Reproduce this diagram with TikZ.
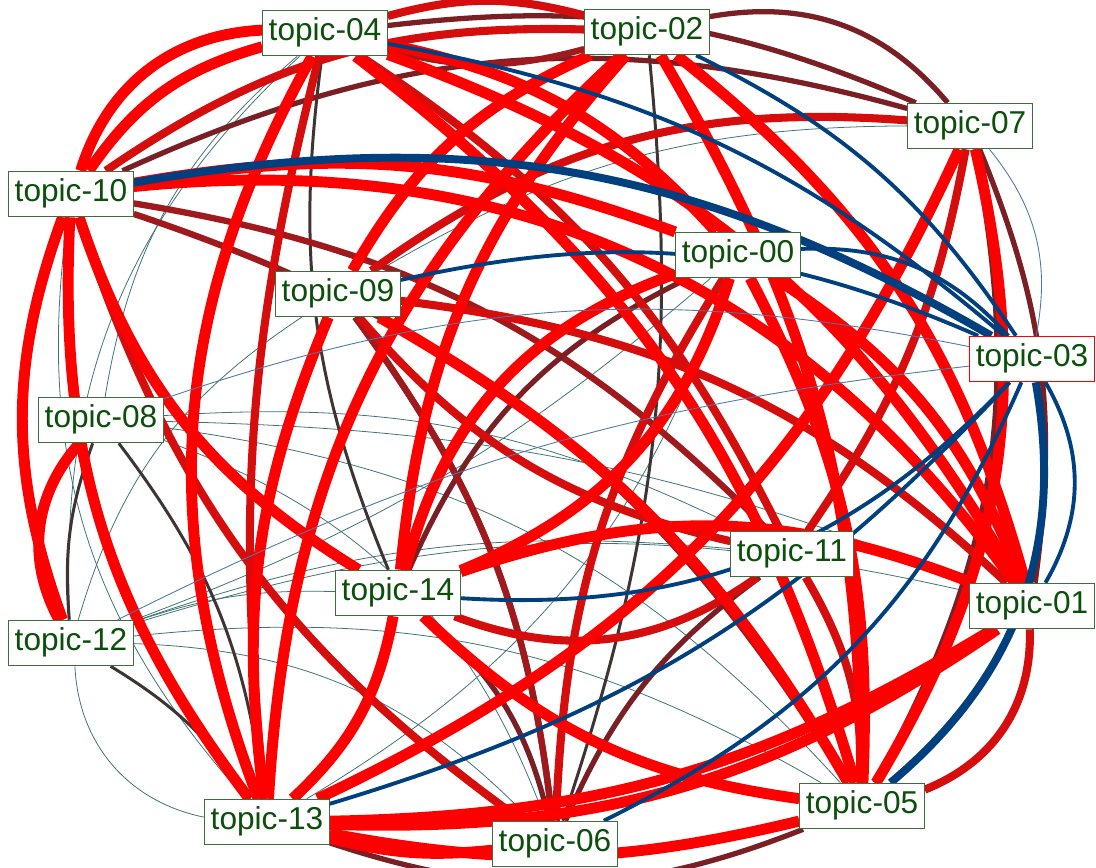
\documentclass[tikz,border=0pt]{standalone}
\usepackage{fontspec}
\setmainfont{Liberation Sans}
\usetikzlibrary{backgrounds}
\definecolor{topicgreen}{HTML}{0B4F0B}
\definecolor{boxgreen}{HTML}{3D6E3D}
\definecolor{hotred}{HTML}{FF0000}
\definecolor{midred}{HTML}{D60D0D}
\definecolor{wine}{HTML}{A0191C}
\definecolor{darkwine}{HTML}{7A2024}
\definecolor{ash}{HTML}{3E3434}
\definecolor{slate}{HTML}{3F7373}
\definecolor{navy}{HTML}{00407F}
\tikzset{
  topic/.style = {draw=boxgreen, fill=white, text=topicgreen, line width=0.6pt,
    inner xsep=3.4pt, inner ysep=4.5pt, text height=12.9pt, text depth=4pt,
    font=\fontsize{18}{20}\selectfont},
  topic_hub/.style = {topic, draw=red},
  e_r/.style = {hotred, line width=6.2pt},
  e_dr/.style = {midred, line width=4.6pt},
  e_w/.style = {wine, line width=3.6pt},
  e_dw/.style = {darkwine, line width=3pt},
  e_k/.style = {ash, line width=1.7pt},
  e_t/.style = {slate, line width=0.45pt},
  e_bb/.style = {navy, line width=4.5pt},
  e_b/.style = {navy, line width=2.2pt},
  e_bt/.style = {navy!70, line width=0.5pt},
}

\begin{document}
\begin{tikzpicture}[x=0.02cm, y=-0.02cm]
  \useasboundingbox (0,0) rectangle (1096,867);
  \node [topic] (t04) at (325,33) {topic-04};
  \node [topic] (t02) at (647,32) {topic-02};
  \node [topic] (t07) at (970,126) {topic-07};
  \node [topic] (t10) at (71,194) {topic-10};
  \node [topic] (t00) at (738,255) {topic-00};
  \node [topic] (t09) at (338,294) {topic-09};
  \node [topic_hub] (t03) at (1032,359) {topic-03};
  \node [topic] (t08) at (101,420) {topic-08};
  \node [topic] (t11) at (792,554) {topic-11};
  \node [topic] (t14) at (398,593) {topic-14};
  \node [topic] (t01) at (1032,606) {topic-01};
  \node [topic] (t12) at (71,643) {topic-12};
  \node [topic] (t13) at (267,822) {topic-13};
  \node [topic] (t05) at (862,806) {topic-05};
  \node [topic] (t06) at (555,844) {topic-06};

  \begin{pgfonlayer}{background}
  % weak links
  \draw [e_t] (t10) to[bend right=25] (t13);
  \draw [e_t] (t10) to[bend right=18] (t12);
  \draw [e_t] (t12) to[bend left=25] (t04);
  \draw [e_t] (t08) to[bend left=20] (t04);
  \draw [e_t] (t12) to[bend right=38] (t13);
  \foreach \dst/\b in {t14/10, t11/12, t01/15, t05/18, t06/22, t00/-10}
    \draw [e_t] (t12) to[bend left=\b] (\dst);
  \foreach \dst/\b in {t11/15, t05/20, t06/25, t01/10}
    \draw [e_t] (t08) to[bend left=\b] (\dst);
  \draw [e_t] (t09) to[bend right=20] (t12);
  \draw [e_t] (t07) to[bend right=15] (t09);
  \draw [e_t] (t13) to[bend right=20] (t00);

  \draw [e_k] (t04) to[bend right=15] (t14);
  \draw [e_k] (t02) to[bend left=12] (t06);
  \draw [e_k] (t08) to[bend right=12] (t12);
  \draw [e_k] (t08) to[bend left=15] (t13);
  \draw [e_k] (t12) to[bend left=12] (t13);

  \draw [e_dw] (t10) to[bend left=20] (t07);
  \draw [e_dw] (t02) to[bend left=30] (t07);
  \draw [e_dw] (t04) to[bend left=15] (t07);
  \draw [e_w] (t02) to[bend left=15] (t04);
  \draw [e_w] (t10) to[bend left=20] (t05);
  \draw [e_w] (t10) to[bend left=18] (t11);
  \draw [e_dw] (t14) to[bend left=20] (t00);
  \draw [e_dw] (t13) to[bend right=20] (t05);
  \draw [e_dw] (t07) to[bend left=15] (t01);
  \draw [e_dw] (t07) to[bend left=20] (t05);
  \draw [e_w] (t06) to[bend right=15] (t09);
  \draw [e_w] (t09) to[bend left=15] (t06);
  \draw [e_dw] (t14) to[bend left=18] (t06);
  \draw [e_dw] (t11) to[bend right=15] (t06);

  \draw [e_dr] (t04) to[bend right=10] (t13);
  \draw [e_dr] (t04) to[bend left=15] (t02);
  \draw [e_dr] (t10) to[bend right=18] (t06);
  \draw [e_dr] (t04) to[bend left=15] (t11);
  \draw [e_dr] (t02) to[bend right=18] (t10);
  \draw [e_dr] (t07) to[bend left=12] (t11);
  \draw [e_dr] (t07) to[bend right=20] (t09);
  \draw [e_dr] (t00) to[bend right=15] (t06);
  \draw [e_dr] (t09) to[bend left=18] (t01);
  \draw [e_dr] (t09) to[bend right=18] (t11);
  \draw [e_dr] (t14) to[bend right=28] (t11);
  \draw [e_dr] (t11) to[bend left=15] (t05);
  \draw [e_dr] (t01) to[bend left=35] (t05);
  \draw [e_dr] (t05) to[bend right=15] (t00);

  % strong links
  \draw [e_r] (t10) to[bend left=35] (t04);
  \draw [e_r] (t04) to[bend right=20] (t10);
  \draw [e_r] (t10) to[bend left=30] (t01);
  \draw [e_r] (t10) to[bend left=15] (t00);
  \draw [e_r] (t10) to[bend right=20] (t12);
  \draw [e_r] (t10) to[bend right=20] (t13);
  \draw [e_r] (t10) to[bend right=20] (t14);
  \draw [e_r] (t04) to[bend right=25] (t13);
  \draw [e_r] (t04) to[bend left=20] (t01);
  \draw [e_r] (t04) to[bend left=18] (t05);
  \draw [e_r] (t04) to[bend left=18] (t00);
  \draw [e_r] (t02) to[bend right=22] (t13);
  \draw [e_r] (t02) to[bend right=18] (t14);
  \draw [e_r] (t02) to[bend left=18] (t01);
  \draw [e_r] (t02) to[bend left=15] (t05);
  \draw [e_r] (t02) to[bend right=18] (t09);
  \draw [e_r] (t07) to[bend left=20] (t13);
  \draw [e_r] (t07) to[bend left=22] (t05);
  \draw [e_r] (t00) to[bend right=28] (t14);
  \draw [e_r] (t14) to[bend right=25] (t00);
  \draw [e_r] (t00) to[bend left=15] (t05);
  \draw [e_r] (t00) to[bend left=18] (t01);
  \draw [e_r] (t09) to[bend right=15] (t13);
  \draw [e_r] (t09) to[bend left=15] (t05);
  \draw [e_r] (t08) to[bend right=35] (t12);
  \draw [e_r] (t14) to[bend right=18] (t05);
  \draw [e_r] (t14) to[bend left=18] (t13);
  \draw [e_r] (t01) to[bend left=18] (t13);
  \draw [e_r] (t13) to[bend right=15] (t01);
  \draw [e_r] (t01) to[bend right=20] (t14);
  \draw [e_r] (t13) to[bend right=12] (t05);
  \draw [e_r] (t13) to[bend right=10] (t06);

  % links of topic-03
  \draw [e_bt] (t07) to[bend left=25] (t03);
  \draw [e_bt] (t08) to[bend left=15] (t03);
  \draw [e_bt] (t12) to[bend left=10] (t03);
  \draw [e_b] (t04) to[bend left=15] (t03);
  \draw [e_b] (t02) to[bend left=15] (t03);
  \draw [e_b] (t00) to[bend left=25] (t03);
  \draw [e_b] (t09) to[bend left=18] (t03);
  \draw [e_b] (t14) to[bend right=25] (t03);
  \draw [e_b] (t13) to[bend right=15] (t03);
  \draw [e_b] (t06) to[bend right=20] (t03);
  \draw [e_b] (t01) to[bend right=30] (t03);
  \draw [e_bb] (t10) to[bend left=20] (t03);
  \draw [e_bb] (t05) to[bend right=30] (t03);
  \end{pgfonlayer}
\end{tikzpicture}
\end{document}
